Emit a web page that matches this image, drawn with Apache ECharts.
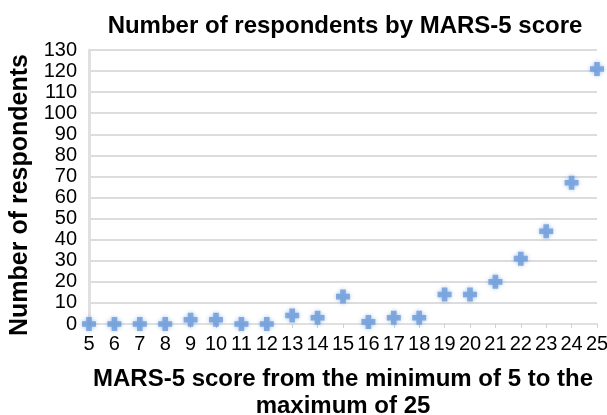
<!DOCTYPE html>
<html>
<head>
<meta charset="utf-8">
<script src="https://cdn.jsdelivr.net/npm/echarts@6/dist/echarts.min.js"></script>
<style>
  html, body { margin: 0; padding: 0; background: #fff; }
  #chart { width: 607px; height: 415px; }
</style>
</head>
<body>
<div id="chart"></div>
<script>
// MARS-5 分数 与 人数
var scores = [5, 6, 7, 8, 9, 10, 11, 12, 13, 14, 15, 16, 17, 18, 19, 20, 21, 22, 23, 24, 25];
var respondents = [0, 0, 0, 0, 2, 2, 0, 0, 4, 3, 13, 1, 3, 3, 14, 14, 20, 31, 44, 67, 121];
var yTicks = [0, 130, 10];

var font = 'Liberation Sans, Arial, sans-serif';
var plus = 'path://M3,0 L7,0 L7,3 L10,3 L10,7 L7,7 L7,10 L3,10 L3,7 L0,7 L0,3 L3,3 Z';

var chart = echarts.init(document.getElementById('chart'));
chart.setOption({
  animation: false,
  title: {
    text: 'Number of respondents by MARS-5 score',
    left: 340, top: 9, textAlign: 'center',
    textStyle: { fontFamily: font, fontSize: 24, fontWeight: 'bold', color: '#000' }
  },
  grid: { left: 89, right: 10, top: 50, bottom: 91, outerBoundsMode: 'none', containLabel: false },
  xAxis: {
    type: 'value', min: 5, max: 25, interval: 1,
    name: 'MARS-5 score from the minimum of 5 to the\nmaximum of 25',
    nameLocation: 'middle', nameGap: 42,
    nameTextStyle: { fontFamily: font, fontSize: 24, fontWeight: 'bold', color: '#000', lineHeight: 27 },
    axisLine: { lineStyle: { color: '#e0e0e0', width: 2 } },
    axisTick: { show: true, length: 4, lineStyle: { color: '#d0d0d0' } },
    axisLabel: { fontFamily: font, fontSize: 20, color: '#000', margin: 10 },
    splitLine: { show: false }
  },
  yAxis: {
    type: 'value', min: yTicks[0], max: yTicks[1], interval: yTicks[2],
    name: 'Number of respondents',
    nameLocation: 'middle', nameGap: 48,
    nameTextStyle: { fontFamily: font, fontSize: 25, fontWeight: 'bold', color: '#000', padding: [0, 16, 0, 0] },
    axisLine: { show: true, lineStyle: { color: '#e0e0e0', width: 3 } },
    axisTick: { show: false },
    axisLabel: { fontFamily: font, fontSize: 20, color: '#000', margin: 12 },
    splitLine: { lineStyle: { color: '#dcdcdc', width: 2 } }
  },
  series: [{
    type: 'scatter',
    symbol: plus,
    symbolSize: 14,
    itemStyle: { color: '#6b9bd9', shadowBlur: 4, shadowColor: 'rgba(90,140,210,0.6)' },
    data: scores.map(function (s, i) { return [s, respondents[i]]; })
  }]
});
</script>
</body>
</html>
